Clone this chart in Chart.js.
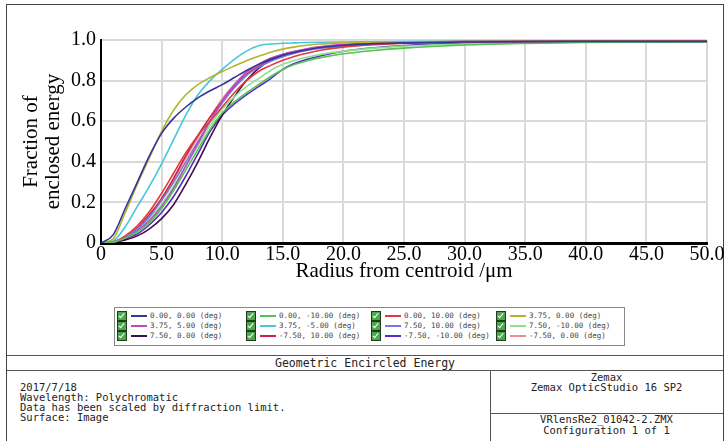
<!DOCTYPE html>
<html>
<head>
<meta charset="utf-8">
<script src="https://cdn.jsdelivr.net/npm/chart.js@4.4.1/dist/chart.umd.min.js"></script>
<style>
    body { margin: 0; background: #fff; width: 727px; height: 441px; position: relative; overflow: hidden; }
    .abs { position: absolute; }
    #frame { left: 6px; top: 4px; width: 716px; height: 440px; border: 1.5px solid #444; }
    #chartBox { left: 0; top: 0; width: 727px; height: 300px; }
    #legend { left: 114px; top: 307px; width: 509px; height: 37px; border: 1px solid #888; }
    .item { position: absolute; height: 10px; font: 7.5px "DejaVu Sans Mono", monospace; color: #444; white-space: pre; line-height: 10px; }
    .cb { position: absolute; left: 0; top: 0; width: 8px; height: 8px; background: #4ca84c; border: 1px solid #1d3d1d; }
    .cb::after { content: ''; position: absolute; left: 2px; top: 0px; width: 2px; height: 5px; border: solid #fff; border-width: 0 1.5px 1.5px 0; transform: rotate(40deg); }
    .swatch { position: absolute; left: 14px; top: 4px; width: 16px; height: 2px; }
    .lbl { position: absolute; left: 33px; top: 0; }
    .hline { height: 0; border-top: 1.5px solid #555; }
    .vline { width: 0; border-left: 1.5px solid #555; }
    .mono { font-family: "DejaVu Sans Mono", monospace; color: #222; white-space: pre; }
</style>
</head>
<body>
<div id="frame" class="abs"></div>
<div id="chartBox" class="abs"><canvas id="eeChart"></canvas></div>
<div id="legend" class="abs"></div>

<div class="abs hline" style="left:7px; top:355px; width:716px;"></div>
<div class="abs mono" style="left:7px; top:356px; width:716px; height:14px; line-height:14px; font-size:11.5px; text-align:center;">Geometric Encircled Energy</div>
<div class="abs hline" style="left:7px; top:370px; width:716px;"></div>
<div class="abs vline" style="left:490px; top:370px; height:80px;"></div>
<div class="abs hline" style="left:490px; top:413px; width:233px;"></div>
<div class="abs mono" style="left:20px; top:382px; font-size:10.5px; line-height:10px;">2017/7/18
Wavelength: Polychromatic
Data has been scaled by diffraction limit.
Surface: Image</div>
<div class="abs mono" style="left:491px; top:372px; width:231px; font-size:10.5px; line-height:10px; text-align:center;">Zemax
Zemax OpticStudio 16 SP2</div>
<div class="abs mono" style="left:491px; top:414px; width:231px; font-size:10.5px; line-height:11px; text-align:center;">VRlensRe2_01042-2.ZMX
Configuration 1 of 1</div>

<script>
// radius from centroid (um)
const radius = [0, 1, 2, 3, 4, 5, 6, 7, 8, 9, 10, 11, 12, 13, 14, 15, 16, 17, 18, 20, 22.5, 25, 30, 35, 40, 45, 50];

const xTickLabels = ['0', '5.0', '10.0', '15.0', '20.0', '25.0', '30.0', '35.0', '40.0', '45.0', '50.0'];
const yTickLabels = ['0', '', '0.2', '', '0.4', '', '0.6', '', '0.8', '', '1.0'];

// field labels, in legend order (row by row)
const fieldLabels = [
    '0.00, 0.00 (deg)', '0.00, -10.00 (deg)', '0.00, 10.00 (deg)', '3.75, 0.00 (deg)',
    '3.75, 5.00 (deg)', '3.75, -5.00 (deg)', '7.50, 10.00 (deg)', '7.50, -10.00 (deg)',
    '7.50, 0.00 (deg)', '-7.50, 10.00 (deg)', '-7.50, -10.00 (deg)', '-7.50, 0.00 (deg)'
];

const fieldColors = [
    '#34349e', '#52c452', '#e03a3a', '#b4b42c',
    '#c048c0', '#44c8da', '#7878e0', '#8ee08e',
    '#40104c', '#c8204a', '#5a2cc4', '#f08c8c'
];

// fraction of enclosed energy per field
const ee_0_0 = [0, 0.04, 0.17, 0.30, 0.43, 0.54, 0.615, 0.67, 0.715, 0.75, 0.78, 0.815, 0.85, 0.88, 0.905, 0.925, 0.94, 0.952, 0.962, 0.974, 0.982, 0.986, 0.99, 0.992, 0.993, 0.993, 0.993];
const ee_0_m10 = [0, 0.005, 0.025, 0.055, 0.10, 0.17, 0.26, 0.36, 0.46, 0.56, 0.64, 0.695, 0.74, 0.78, 0.82, 0.855, 0.88, 0.898, 0.912, 0.932, 0.948, 0.96, 0.975, 0.983, 0.988, 0.99, 0.99];
const ee_0_10 = [0, 0.005, 0.035, 0.085, 0.155, 0.245, 0.345, 0.445, 0.53, 0.60, 0.67, 0.74, 0.80, 0.845, 0.875, 0.90, 0.92, 0.935, 0.948, 0.965, 0.977, 0.984, 0.99, 0.992, 0.993, 0.993, 0.993];
const ee_375_0 = [0, 0.02, 0.15, 0.29, 0.42, 0.55, 0.655, 0.73, 0.78, 0.815, 0.845, 0.872, 0.898, 0.92, 0.94, 0.955, 0.966, 0.974, 0.98, 0.986, 0.989, 0.991, 0.992, 0.993, 0.993, 0.993, 0.993];
const ee_375_5 = [0, 0.004, 0.025, 0.06, 0.11, 0.18, 0.27, 0.38, 0.49, 0.60, 0.70, 0.78, 0.84, 0.88, 0.91, 0.93, 0.945, 0.957, 0.966, 0.977, 0.985, 0.989, 0.992, 0.993, 0.993, 0.993, 0.993];
const ee_375_m5 = [0, 0.01, 0.08, 0.18, 0.28, 0.39, 0.51, 0.63, 0.73, 0.80, 0.855, 0.905, 0.945, 0.972, 0.98, 0.984, 0.986, 0.988, 0.989, 0.99, 0.991, 0.992, 0.993, 0.993, 0.993, 0.993, 0.993];
const ee_75_10 = [0, 0.005, 0.03, 0.07, 0.13, 0.21, 0.30, 0.40, 0.50, 0.60, 0.69, 0.765, 0.825, 0.865, 0.895, 0.918, 0.935, 0.948, 0.958, 0.97, 0.979, 0.985, 0.99, 0.992, 0.993, 0.993, 0.993];
const ee_75_m10 = [0, 0.005, 0.03, 0.065, 0.12, 0.19, 0.28, 0.38, 0.48, 0.58, 0.66, 0.72, 0.77, 0.81, 0.85, 0.88, 0.90, 0.915, 0.928, 0.945, 0.96, 0.97, 0.98, 0.986, 0.99, 0.991, 0.992];
const ee_75_0 = [0, 0.003, 0.015, 0.035, 0.07, 0.12, 0.19, 0.29, 0.40, 0.52, 0.63, 0.72, 0.80, 0.86, 0.90, 0.925, 0.94, 0.953, 0.962, 0.975, 0.983, 0.988, 0.992, 0.993, 0.993, 0.993, 0.993];
const ee_m75_10 = [0, 0.005, 0.03, 0.075, 0.14, 0.22, 0.32, 0.43, 0.53, 0.62, 0.70, 0.77, 0.83, 0.87, 0.90, 0.92, 0.94, 0.952, 0.962, 0.974, 0.983, 0.988, 0.992, 0.993, 0.993, 0.993, 0.993];
const ee_m75_m10 = [0, 0.004, 0.02, 0.045, 0.09, 0.15, 0.23, 0.33, 0.44, 0.55, 0.63, 0.685, 0.73, 0.77, 0.81, 0.855, 0.885, 0.905, 0.92, 0.945, 0.962, 0.973, 0.985, 0.99, 0.992, 0.993, 0.993];
const ee_m75_0 = [0, 0.005, 0.03, 0.07, 0.13, 0.21, 0.31, 0.42, 0.52, 0.62, 0.71, 0.78, 0.84, 0.88, 0.91, 0.93, 0.945, 0.956, 0.965, 0.976, 0.984, 0.988, 0.992, 0.993, 0.993, 0.993, 0.993];

const fieldValues = [
    ee_0_0, ee_0_m10, ee_0_10, ee_375_0,
    ee_375_5, ee_375_m5, ee_75_10, ee_75_m10,
    ee_75_0, ee_m75_10, ee_m75_m10, ee_m75_0
];

function buildLegend() {
    const box = document.getElementById('legend');
    const colX = [2, 131, 256, 381];
    const rowY = [3, 13, 23];
    fieldLabels.forEach((label, i) => {
        const item = document.createElement('div');
        item.className = 'item';
        item.style.left = colX[i % 4] + 'px';
        item.style.top = rowY[Math.floor(i / 4)] + 'px';
        item.innerHTML = '<span class="cb"></span><span class="swatch" style="background:' + fieldColors[i] + '"></span><span class="lbl"></span>';
        item.querySelector('.lbl').textContent = label;
        box.appendChild(item);
    });
}

function initEnergyChart() {
    const ctx = document.getElementById('eeChart');
    if (!ctx) return;

    new Chart(ctx, {
        type: 'line',
        data: {
            labels: radius,
            datasets: fieldLabels.map((label, i) => ({
                label: label,
                data: fieldValues[i].map((v, j) => ({ x: radius[j], y: v })),
                borderColor: fieldColors[i],
                borderWidth: 1.6,
                pointRadius: 0,
                fill: false,
                cubicInterpolationMode: 'monotone'
            }))
        },
        options: {
            responsive: true,
            maintainAspectRatio: false,
            animation: false,
            layout: { padding: { left: 0, right: 20, top: 40, bottom: 0 } },
            plugins: {
                legend: { display: false },
                tooltip: { enabled: false }
            },
            scales: {
                x: {
                    type: 'linear',
                    min: 0,
                    max: 50,
                    afterFit: scale => { scale.height = 57; },
                    border: { color: '#000', width: 3 },
                    grid: { color: '#dadada', lineWidth: 2, drawTicks: false },
                    ticks: {
                        stepSize: 5,
                        padding: 2,
                        maxRotation: 0,
                        color: '#000',
                        font: { family: 'Liberation Serif', size: 20, lineHeight: 1 },
                        callback: (value, index) => xTickLabels[index]
                    },
                    title: {
                        display: true,
                        text: 'Radius from centroid /\u03bcm',
                        color: '#000',
                        font: { family: 'Liberation Serif', size: 21, lineHeight: 1 },
                        padding: { top: 0, bottom: 18 }
                    }
                },
                y: {
                    min: 0,
                    max: 1,
                    afterFit: scale => { scale.width = 101; },
                    border: { color: '#000', width: 2 },
                    grid: { color: '#dadada', lineWidth: 2, drawTicks: false },
                    ticks: {
                        stepSize: 0.1,
                        padding: 5,
                        color: '#000',
                        font: { family: 'Liberation Serif', size: 20 },
                        callback: (value, index) => yTickLabels[index]
                    },
                    title: {
                        display: true,
                        text: ['Fraction of', 'enclosed energy'],
                        color: '#000',
                        font: { family: 'Liberation Serif', size: 21, lineHeight: 1.05 },
                        padding: { top: 20, bottom: 0 }
                    }
                }
            }
        }
    });
}

buildLegend();
initEnergyChart();
</script>
</body>
</html>
